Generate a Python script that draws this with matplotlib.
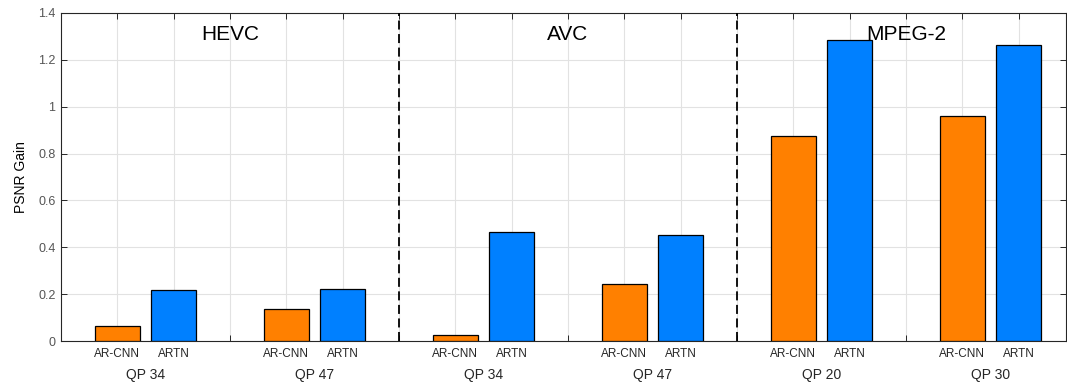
import numpy as np
import matplotlib
matplotlib.use("Agg")
import matplotlib.pyplot as plt
import matplotlib.transforms as mtransforms

plt.rcParams['font.family'] = ['Liberation Sans', 'DejaVu Sans']

# PSNR gain per codec / QP setting
codecs = ["HEVC", "AVC", "MPEG-2"]
qp_labels = ["QP 34", "QP 47", "QP 34", "QP 47", "QP 20", "QP 30"]
methods = ["AR-CNN", "ARTN"]
arcnn = [0.065, 0.138, 0.024, 0.242, 0.877, 0.962]
artn = [0.217, 0.221, 0.464, 0.451, 1.285, 1.263]

orange = (1.0, 0.5, 0.0)
blue = (0.0, 0.5, 1.0)

fig = plt.figure(figsize=(10.67, 3.82), dpi=100)
ax = fig.add_axes([0.0572, 0.1073, 0.9418, 0.8587])

# each QP group takes slots (a, b) with an empty slot between groups
pos_a = []
pos_b = []
for i in range(len(qp_labels)):
    base = 1 + 3 * i
    pos_a.append(base)
    pos_b.append(base + 1)

ax.bar(pos_a, arcnn, width=0.8, color=orange, edgecolor='black', linewidth=0.9, zorder=3)
ax.bar(pos_b, artn, width=0.8, color=blue, edgecolor='black', linewidth=0.9, zorder=3)

ax.set_xlim(0, 17.84)
ax.set_ylim(0, 1.4)

ticks = list(range(1, 18))
labels = []
for t in ticks:
    if t in pos_a:
        labels.append(methods[0])
    elif t in pos_b:
        labels.append(methods[1])
    else:
        labels.append("")
ax.set_xticks(ticks)
ax.set_xticklabels(labels, fontsize=8.5, color='#262626')
ax.set_yticks(np.arange(0, 1.41, 0.2))
ax.set_yticklabels(["0", "0.2", "0.4", "0.6", "0.8", "1", "1.2", "1.4"], fontsize=9, color='#555555')
ax.tick_params(direction='in', length=4, width=0.7, color='#262626',
               top=True, right=True, bottom=True, left=True)
ax.tick_params(axis='x', pad=5)
ax.tick_params(axis='y', pad=4)

ax.grid(True, color='#e2e2e2', linewidth=0.8, zorder=0)
ax.set_axisbelow(True)
for s in ax.spines.values():
    s.set_color('#262626')
    s.set_linewidth(0.8)

ax.set_ylabel("PSNR Gain", fontsize=10, labelpad=7)

# codec separators
for x in [6, 12]:
    ax.plot([x, x], [0, 1.4], color='black', linestyle=(0, (5, 2.5)), linewidth=1.3, zorder=4)

# codec titles
for i, name in enumerate(codecs):
    ax.text(3 + 6 * i, 1.31, name, fontsize=15, ha='center', va='center', zorder=5)

# QP group labels under the method labels
trans = mtransforms.blended_transform_factory(ax.transData, ax.transAxes)
for i, lab in enumerate(qp_labels):
    ax.text(pos_a[i] + 0.5, -0.104, lab, fontsize=10, ha='center', va='center',
            transform=trans, color='#262626')

fig.savefig("out.png", dpi=100)
